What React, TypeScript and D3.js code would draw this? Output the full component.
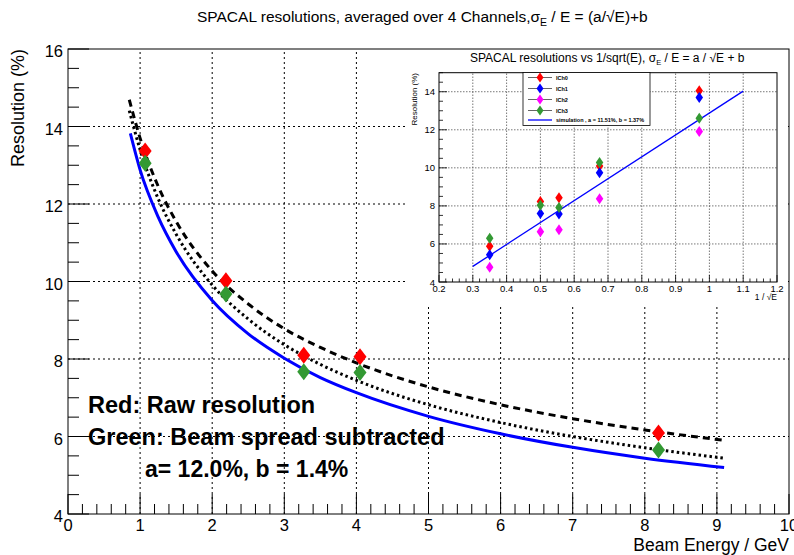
import React from "react";
import * as d3 from "d3";

// ---------- Main plot data ----------
const BEAM_E = [1.07, 2.19, 3.27, 4.05, 8.19];
const RAW_RES = [13.37, 10.02, 8.1, 8.06, 6.09];
const SUB_RES = [13.05, 9.68, 7.67, 7.65, 5.65];

const FIT_E = [0.85, 1, 1.25, 1.5, 2, 2.5, 3, 3.5, 4, 5, 6, 7, 8, 9.1];
const DASHED_RES = [14.69, 13.7, 12.46, 11.55, 10.27, 9.42, 8.78, 8.3, 7.9, 7.28, 6.82, 6.46, 6.17, 5.9];
const DOTTED_RES = [14.41, 13.4, 12.14, 11.22, 9.91, 9.03, 8.37, 7.86, 7.45, 6.82, 6.36, 6.0, 5.71, 5.44];
const SIM_E = [0.865, 1, 1.25, 1.5, 2, 2.5, 3, 3.5, 4, 5, 6, 7, 8, 9.1];
const SIM_RES = [13.82, 12.88, 11.67, 10.77, 9.51, 8.65, 8.02, 7.52, 7.13, 6.52, 6.07, 5.72, 5.44, 5.2];

const X_TICKS = [0, 1, 2, 3, 4, 5, 6, 7, 8, 9, 10];
const Y_TICKS = [4, 6, 8, 10, 12, 14, 16];

// ---------- Inset data ----------
const INV_SQRT_E = [0.35, 0.5, 0.555, 0.675, 0.97];
const ICH0 = [5.88, 8.23, 8.43, 10.1, 14.05];
const ICH1 = [5.43, 7.6, 7.57, 9.74, 13.7];
const ICH2 = [4.78, 6.64, 6.75, 8.38, 11.91];
const ICH3 = [6.3, 8.03, 7.91, 10.28, 12.6];
const SIM_LINE_X = [0.3, 1.1];
const SIM_LINE_Y = [4.82, 14.03];
const IX_TICKS = [0.2, 0.3, 0.4, 0.5, 0.6, 0.7, 0.8, 0.9, 1, 1.1, 1.2];
const IY_TICKS = [4, 6, 8, 10, 12, 14];
const CHANNEL_NAMES = ["ICh0", "ICh1", "ICh2", "ICh3"];
const SIM_LABEL = "simulation , a = 11.51%, b = 1.37%";

const RED = "#ff0000";
const GREEN = "#339933";
const BLUE = "#0000ff";
const MAGENTA = "#ff00ff";
const CH_COLORS = [RED, BLUE, MAGENTA, GREEN];

const FONT = "'Liberation Sans', Arial, Helvetica, sans-serif";

function diamond(cx: number, cy: number, w: number, h: number) {
  return `M${cx},${cy - h / 2}L${cx + w / 2},${cy}L${cx},${cy + h / 2}L${cx - w / 2},${cy}Z`;
}

export default function App() {
  const W = 794, H = 555;
  const x = d3.scaleLinear().domain([0, 10]).range([68, 789]);
  const y = d3.scaleLinear().domain([4, 16]).range([514, 49]);

  const ix = d3.scaleLinear().domain([0.2, 1.2]).range([439, 777]);
  const iy = d3.scaleLinear().domain([4, 15]).range([282, 72.7]);

  const line = (xs: number[], ys: number[]) =>
    d3
      .line<number>()
      .x((_, i) => x(xs[i]))
      .y((d) => y(d))
      .curve(d3.curveMonotoneX)(ys) || "";

  const xMinor = d3.range(0, 10.001, 0.2);
  const yMinor = d3.range(4, 16.001, 0.5);
  const ixMinor = d3.range(0.2, 1.2001, 0.02);
  const iyMinor = d3.range(4, 15.001, 0.5);

  const [x0, x1] = x.range();
  const [y0, y1] = y.range();
  const [ix0, ix1] = ix.range();
  const [iy0, iy1] = iy.range();

  return (
    <svg
      width={W}
      height={H}
      style={{ position: "fixed", left: 0, top: 0, background: "#fff" }}
      fontFamily={FONT}
    >
      <rect x={0} y={0} width={W} height={H} fill="#fff" />
      {/* title */}
      <text x={197} y={22} fontSize={15.5} fill="#000">
        SPACAL resolutions, averaged over 4 Channels,σ
        <tspan fontSize={10.5} dy={4}>E</tspan>
        <tspan dy={-4}> / E = (a/√E)+b</tspan>
      </text>

      {/* grid */}
      {X_TICKS.slice(1, -1).map((t) => (
        <line key={"gx" + t} x1={x(t)} x2={x(t)} y1={y0} y2={y1} stroke="#000" strokeWidth={1} strokeDasharray="2,3" />
      ))}
      {Y_TICKS.slice(1, -1).map((t) => (
        <line key={"gy" + t} x1={x0} x2={x1} y1={y(t)} y2={y(t)} stroke="#000" strokeWidth={1} strokeDasharray="2,3" />
      ))}

      {/* fit curves */}
      <path d={line(FIT_E, DASHED_RES)} fill="none" stroke="#000" strokeWidth={3} strokeDasharray="7,5" />
      <path d={line(FIT_E, DOTTED_RES)} fill="none" stroke="#000" strokeWidth={3} strokeDasharray="2.5,3" />
      <path d={line(SIM_E, SIM_RES)} fill="none" stroke={BLUE} strokeWidth={3} />

      {/* points */}
      {BEAM_E.map((e, i) => (
        <path key={"r" + i} d={diamond(x(e), y(RAW_RES[i]), 13, 17)} fill={RED} />
      ))}
      {BEAM_E.map((e, i) => (
        <path key={"g" + i} d={diamond(x(e), y(SUB_RES[i]), 13, 17)} fill={GREEN} />
      ))}

      {/* annotations */}
      <g fontWeight="bold" fill="#000">
        <text x={88} y={413} fontSize={23.5}>Red: Raw resolution</text>
        <text x={88} y={445} fontSize={23.5}>Green: Beam spread subtracted</text>
        <text x={145} y={477} fontSize={23}>a= 12.0%, b = 1.4%</text>
      </g>

      {/* ---------- inset pad ---------- */}
      <rect x={405} y={51} width={383} height={254} fill="#fff" />
      <text x={470} y={62} fontSize={12} fill="#000">
        SPACAL resolutions vs 1/sqrt(E),  σ
        <tspan fontSize={7.5} dy={2.5}>E</tspan>
        <tspan dy={-2.5}> / E = a / √E + b</tspan>
      </text>
      {IX_TICKS.slice(1, -1).map((t) => (
        <line key={"igx" + t} x1={ix(t)} x2={ix(t)} y1={iy0} y2={iy1} stroke="#555" strokeWidth={0.8} strokeDasharray="1.5,1.5" />
      ))}
      {IY_TICKS.slice(1).map((t) => (
        <line key={"igy" + t} x1={ix0} x2={ix1} y1={iy(t)} y2={iy(t)} stroke="#555" strokeWidth={0.8} strokeDasharray="1.5,1.5" />
      ))}
      {/* inset ticks */}
      {ixMinor.map((t, i) => {
        const major = i % 5 === 0;
        return <line key={"ixt" + i} x1={ix(t)} x2={ix(t)} y1={iy0} y2={iy0 - (major ? 7 : 3.5)} stroke="#000" strokeWidth={0.8} />;
      })}
      {iyMinor.map((t, i) => {
        const major = i % 4 === 0;
        return <line key={"iyt" + i} x1={ix0} x2={ix0 + (major ? 8 : 4)} y1={iy(t)} y2={iy(t)} stroke="#000" strokeWidth={0.8} />;
      })}
      <rect x={ix0} y={iy1} width={ix1 - ix0} height={iy0 - iy1} fill="none" stroke="#000" strokeWidth={1} />
      {IX_TICKS.map((t) => (
        <text key={"ixl" + t} x={ix(t)} y={292} fontSize={9.5} textAnchor="middle" fill="#000">
          {d3.format("~g")(t)}
        </text>
      ))}
      {IY_TICKS.map((t) => (
        <text key={"iyl" + t} x={435} y={iy(t) + 3.5} fontSize={9.5} textAnchor="end" fill="#000">
          {t}
        </text>
      ))}
      <text x={777} y={300} fontSize={8.5} textAnchor="end" fill="#000">1 / √E</text>
      <text transform="translate(417,73) rotate(-90)" fontSize={8} textAnchor="end" fill="#000">
        Resolution (%)
      </text>
      <line
        x1={ix(SIM_LINE_X[0])}
        y1={iy(SIM_LINE_Y[0])}
        x2={ix(SIM_LINE_X[1])}
        y2={iy(SIM_LINE_Y[1])}
        stroke={BLUE}
        strokeWidth={1.3}
      />
      {[ICH0, ICH1, ICH2, ICH3].map((vals, c) =>
        vals.map((v, i) => (
          <path key={"ich" + c + "-" + i} d={diamond(ix(INV_SQRT_E[i]), iy(v), 7.5, 11)} fill={CH_COLORS[c]} />
        ))
      )}
      {/* inset legend */}
      <rect x={523} y={72.5} width={127} height={53} fill="#fff" stroke="#000" strokeWidth={0.8} />
      {CHANNEL_NAMES.map((n, i) => {
        const ly = 77.5 + i * 11;
        return (
          <g key={"leg" + n}>
            <line x1={528} x2={552} y1={ly} y2={ly} stroke="#666" strokeWidth={1} />
            <path d={diamond(540, ly, 7, 10)} fill={CH_COLORS[i]} />
            <text x={556} y={ly + 2} fontSize={5.5} fontWeight="bold" fill="#000">{n}</text>
          </g>
        );
      })}
      <line x1={528} x2={552} y1={120} y2={120} stroke={BLUE} strokeWidth={1.3} />
      <text x={556} y={122} fontSize={5.5} fontWeight="bold" fill="#000">{SIM_LABEL}</text>

      {/* ---------- main frame & axes ---------- */}
      <rect x={x0} y={y1} width={x1 - x0} height={y0 - y1} fill="none" stroke="#000" strokeWidth={1} />
      {xMinor.map((t, i) => {
        const major = i % 5 === 0;
        return <line key={"xt" + i} x1={x(t)} x2={x(t)} y1={y0} y2={y0 - (major ? 20 : 10)} stroke="#000" strokeWidth={1} />;
      })}
      {yMinor.map((t, i) => {
        const major = i % 4 === 0;
        return <line key={"yt" + i} x1={x0} x2={x0 + (major ? 21 : 11)} y1={y(t)} y2={y(t)} stroke="#000" strokeWidth={1} />;
      })}
      {X_TICKS.map((t) => (
        <text key={"xl" + t} x={x(t)} y={531} fontSize={16.5} textAnchor="middle" fill="#000">
          {t}
        </text>
      ))}
      {Y_TICKS.map((t) => (
        <text key={"yl" + t} x={63} y={y(t) + 8} fontSize={16.5} textAnchor="end" fill="#000">
          {t}
        </text>
      ))}
      <text x={789} y={551} fontSize={17.5} textAnchor="end" fill="#000">Beam Energy / GeV</text>
      <text transform="translate(24,49) rotate(-90)" fontSize={18} textAnchor="end" fill="#000">
        Resolution (%)
      </text>
    </svg>
  );
}
